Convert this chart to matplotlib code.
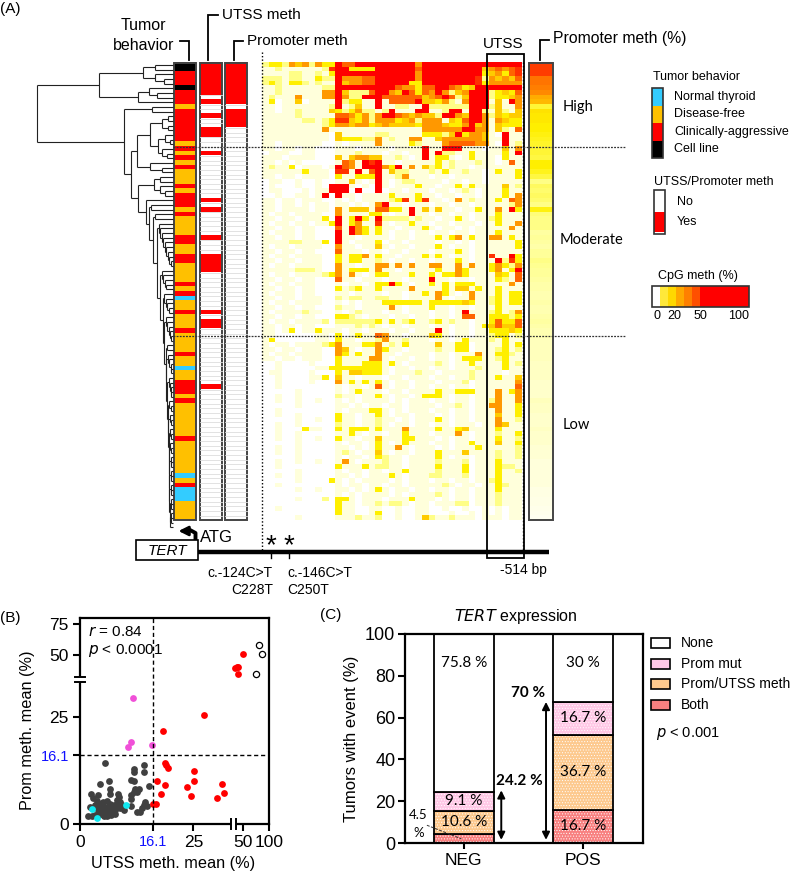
import numpy as np
import matplotlib
matplotlib.use('Agg')
import matplotlib.pyplot as plt
from matplotlib.collections import LineCollection
from matplotlib.colors import LinearSegmentedColormap, ListedColormap
from matplotlib.patches import Rectangle

plt.rcParams['font.family'] = ['Liberation Sans', 'DejaVu Sans']

# CpG methylation levels, one string per tumor (0 = none ... 8 = full), groups only for counting
cpg_levels = [
    "23325452533 866888 8888885 8888888888 88888",
    "11211111127 883333 8888886 8888888884 56567",
    "11112211213 888888 8888885 8888888883 45367",
    "22212211322 855566 8888885 8888888872 54546",
    "23213321211 845566 8888833 8888888873 55555",
    "11211111122 888888 8886553 6688653488 88888",
    "11211111155 842226 8854863 6585245888 23436",
    "12111511155 852288 8666666 4568624888 23345",
    "13011401111 823311 8166668 4435215888 14185",
    "11011111112 812411 8112211 8222222888 24115",
    "11011211114 323522 1281118 8112881882 14214",
    "11111211111 665352 5886545 4428854885 24344",
    "11111122123 774352 5553452 5551436885 15433",
    "11111111123 554553 4544443 5554335845 14333",
    "11111111151 111111 1111111 5555558855 14216",
    "11111111110 411111 2211111 3332483554 10811",
    "11111111110 433322 5121155 1145555554 11811",
    "11011111100 101111 5111132 1115666655 10812",
    "11011011000 111011 1101111 8118881110 11415",
    "01110011000 111211 1011011 8182211311 11318",
    "11101111000 414554 4112101 8133101311 10311",
    "11010100000 165187 8110111 1131211121 10161",
    "12113011101 865188 8538151 4231211011 11111",
    "11111131110 771816 8142211 1213112110 13113",
    "11011011110 311333 8112511 1011011110 11113",
    "01100100100 114101 8101221 1110110110 11111",
    "01000100108 881010 8101113 1101131311 11412",
    "01100010118 880800 8011011 1011012101 11311",
    "00100110180 811011 1131113 1101101101 11315",
    "11011011100 101011 1123713 7110151211 13165",
    "11011010110 110101 5811011 1011011011 11125",
    "11011110110 514441 6633181 4141101131 15183",
    "10110111100 511113 3101181 1011011011 13111",
    "11011011130 813831 8222212 1101131011 23111",
    "10110110113 813511 7101131 1011011101 13115",
    "11011011000 618531 3110111 3101101011 11151",
    "10111011000 818531 3101101 1011011011 13111",
    "11011011000 811011 1101101 1131351311 55131",
    "11112211130 810111 3011011 1101101011 11113",
    "10110111100 511011 4101101 1131011011 11113",
    "11011011000 611101 1011011 1011131011 11111",
    "10110111100 313351 3110111 3131011011 71183",
    "11011011100 313311 2101101 1011131011 18273",
    "10110111100 511011 5515151 1551151511 35325",
    "11111222100 513331 5110111 1131153111 35138",
    "10110111123 515101 3311131 1313353111 14316",
    "11011011000 611011 1011011 1811011011 13216",
    "10110111000 101101 3383101 1313133311 11151",
    "11011011000 312311 3111151 1113144131 13111",
    "10111011000 110111 1011011 3153101511 13133",
    "11011011100 212211 2211011 1151011511 23133",
    "10110111100 101011 1333333 1333334311 23133",
    "11011011000 211011 1151011 1311011011 13111",
    "10111121100 101211 1011011 1011018111 23125",
    "11011011000 332101 1101101 1011016611 33323",
    "10110111120 222222 3131231 1231211011 36336",
    "11011011000 111212 1011011 1011011013 46446",
    "11013011311 101101 1101101 1181011011 33343",
    "11000000110 301311 6511011 1431011011 23312",
    "13000000110 311011 2511211 1011013111 21311",
    "10110111123 511133 5121311 1141133011 11313",
    "11011011100 541011 5311011 1121133011 12312",
    "10110111100 531311 5110111 1011011151 13321",
    "11011011100 311115 5101101 1011013331 12311",
    "00100001000 311133 3131011 1121011311 11312",
    "00100000113 333333 3101101 1011011121 11311",
    "01100001000 314433 3101112 1101111211 11011",
    "00100001130 411011 1011011 1011011211 13114",
    "00100001000 513131 3101101 1101112011 11115",
    "00100000000 101101 6101101 1011011011 11116",
    "00000100000 101311 1011011 1131133311 15135",
    "00100100000 211011 3101101 3331011011 15115",
    "00100100100 101011 1101011 1011011011 25115",
    "00000100000 110101 1011011 1101121011 55113",
    "00100000000 101113 3101011 1011011011 15113",
    "00100100000 311011 3101101 1101011011 14113",
    "00000100100 311011 2110101 1131011011 15112",
    "00100100000 211011 2101101 1011011101 15411",
    "00100031100 313331 3111511 1131134111 13111",
    "00100100000 113101 1011311 1011151011 12113",
    "00100100100 311011 4111331 1101011011 13112",
    "00000100000 101101 3101311 1011011311 14113",
    "00100100000 110101 3115101 1101011131 11112",
    "00100100000 121011 4101101 1131114111 12112",
    "00000100000 101101 3211011 1131011011 12112",
    "00100100100 151011 1211011 1121112011 13111",
    "00100000000 311131 2211011 1131113011 13221",
    "00000100000 101101 1011311 1121113011 13112",
    "00100100000 110101 1131011 1221112011 13111",
    "00000100003 101011 1101011 1011011011 23111",
    "00100000000 101101 1011011 1112101101 13211",
    "00000100100 110101 3101101 1011011011 13111",
    "00000000000 101011 1101011 1121011011 12111",
    "00000100020 331011 1011131 1101011011 12111",
    "00000000000 311011 2122101 1011122011 12111",
    "00100000000 311001 1001001 1001001001 01011",
    "00000000000 311001 3001001 1000100101 01011",
    "00000100000 111211 2001001 4211211101 11011",
]

# annotation columns of panel A
tumor_behavior = ("KK RRR K RRR O RRRRRRR O R O R O R OOO R O RRR O R OOOO RR OO RR OOOO R O R B OO R OOO "
                  "R OOOO R OO B OO RRR O R OOOOOOO R OOOOOOO B O R BBB OOOO")
tumor_codes = "BORK"
tumor_colors = ['#33CCFF', '#FFC000', '#FF0000', '#000000']
tumor_names = ['Normal thyroid', 'Disease-free', 'Clinically-aggressive', 'Cell line']
utss_yes = [0, 1, 2, 3, 4, 5, 6, 8, 11, 14, 15, 19, 29, 31, 37, 41, 42, 43, 44, 53, 55, 56, 69]
prom_yes = [0, 1, 2, 3, 4, 5, 6, 7, 8, 10, 11, 12, 13]
prom_mean_level = [6.8, 6.8, 6.8, 5.7, 5.7, 5.5, 5.3, 4.6, 4.4, 2.6, 3.4, 3.2, 3.2, 3.0, 3.0, 2.9, 2.8, 2.7,
                   2.6, 2.6, 2.5, 3.0, 3.0, 2.8, 2.5, 2.0, 2.3, 2.2, 2.3, 2.2, 2.0, 2.9, 2.1, 2.0, 2.0, 2.0,
                   1.7, 1.8, 1.7, 1.6, 1.8, 1.8, 2.0, 1.9, 1.8, 1.8, 1.7, 1.6, 1.6, 1.5, 1.5, 1.6, 1.5, 1.5,
                   1.6, 1.7, 1.6, 1.5, 1.5, 1.4, 1.4, 1.4, 1.4, 1.4, 1.3, 1.3, 1.3, 1.3, 1.2, 1.2, 1.2, 1.2,
                   1.4, 1.3, 1.3, 1.2, 1.2, 1.2, 1.3, 1.2, 1.2, 1.2, 1.1, 1.1, 1.1, 1.0, 1.0, 1.0, 1.0, 1.0,
                   1.0, 0.8, 0.8, 0.7, 0.7, 0.6, 0.5, 0.4]
level_colors = ['#FFFFFF', '#FFFFDC', '#FFFF88', '#FFF000', '#FFCC00', '#FF9900', '#FF6600', '#FF3300', '#FF0000']
cpg_bar_colors = ['#FFFFFF', '#FFE83A', '#FFD800', '#FFA800', '#FF8000', '#FF5000',
                  '#FF0000', '#FF0000', '#FF0000', '#FF0000', '#FF0000', '#FF0000']
cpg_ticks = ['0', '20', '50', '100']

# panel B, methylation means (%)
gray_x = [5.5, 11.8, 12.0, 14.2, 14.0, 6.3, 4.3, 11.2, 11.8, 15.1, 12.9, 12.1, 11.8, 12.6, 6.6, 6.6, 2.5, 4.0,
          11.2, 11.3, 8.3, 8.5, 8.1, 8.9, 14.3, 14.0, 14.7, 13.6, 12.6, 13.2, 11.2, 9.8, 1.8, 2.6, 3.3, 4.0,
          3.3, 4.4, 5.1, 5.9, 6.6, 7.4, 4.8, 5.5, 6.3, 7.0, 7.7, 8.5, 8.8, 5.3, 6.0, 6.8, 7.7, 2.9, 3.7,
          4.4, 5.1, 5.9, 6.6, 7.4, 2.2, 4.0, 4.8, 8.1, 9.2]
gray_y = [14.3, 13.0, 12.1, 13.9, 12.1, 10.0, 9.3, 10.4, 10.0, 8.9, 8.3, 8.1, 7.6, 7.6, 8.1, 7.0, 7.0, 6.9,
          6.8, 5.8, 7.1, 6.4, 5.6, 5.2, 5.2, 4.4, 4.2, 3.7, 2.9, 2.9, 4.2, 3.3, 1.9, 1.9, 2.1, 3.3,
          4.4, 4.8, 5.2, 5.5, 4.8, 4.4, 3.3, 2.9, 2.6, 2.9, 3.3, 4.0, 3.7, 1.9, 1.9, 2.0, 2.3, 6.0, 5.5,
          4.0, 4.0, 4.0, 3.7, 3.7, 4.0, 2.1, 2.3, 4.6, 4.4]
red_x = [34.0, 38.5, 41.0, 39.8, 49.4, 27.4, 18.4, 18.7, 19.5, 18.9, 25.1, 25.1, 23.6, 24.4, 17.0, 18.7, 17.9,
         16.1, 16.7, 31.3, 31.8, 30.3]
red_y = [40.3, 41.1, 41.1, 35.0, 51.3, 25.5, 21.7, 14.3, 13.2, 13.9, 12.4, 10.0, 8.7, 6.5, 10.1, 9.2, 7.1,
         4.7, 4.7, 9.3, 7.3, 6.2]
cell_x = [81.4, 86.6, 75.0]
cell_y = [58.2, 51.0, 35.5]
magenta_x = [11.7, 11.2, 10.6, 15.8]
magenta_y = [29.6, 19.1, 18.0, 18.4]
cyan_x = [2.6, 3.8, 10.1]
cyan_y = [3.5, 1.5, 4.5]

# panel C, % of tumors (heights as drawn in the bars, the printed labels differ a little)
expr_groups = ['NEG', 'POS']
event_names = ['Both', 'Prom/UTSS meth', 'Prom mut', 'None']
event_values = {'Both': [4.5, 16], 'Prom/UTSS meth': [10.9, 35.5], 'Prom mut': [9.2, 16.2], 'None': [75.4, 32.3]}
event_colors = {'Both': '#F88080', 'Prom/UTSS meth': '#FDC98E', 'Prom mut': '#FFC8E6', 'None': '#FFFFFF'}
event_labels = {'Both': [None, '16.7 %'], 'Prom/UTSS meth': ['10.6 %', '36.7 %'], 'Prom mut': ['9.1 %', '16.7 %'],
                'None': ['75.8 %', '30 %']}
any_event = [24.2, 70]

# dendrogram tail: merge position (px) and size of the cluster split off at each step
tail_x = [146, 149, 153, 157, 160, 162.5, 164, 165.5, 166, 167, 167.5, 168, 168.5, 168.8, 169, 169.2, 169.4,
          169.6, 169.8]
tail_size = [1, 2, 2, 10, 5, 5, 6, 2, 5, 5, 3, 3, 3, 3, 3, 3, 3, 3, 3]

TOP, ROW = 62.7, 4.67
N_ROWS = len(cpg_levels)
BOTTOM = TOP + ROW * N_ROWS
CALIBRI = ['Lato', 'DejaVu Sans']
meth_cmap = LinearSegmentedColormap.from_list('meth', list(zip(np.arange(9) / 8, level_colors)))


def comb(n, x):
    if n == 1:
        return 0
    return (min(x + 1.5, 171), 0, comb(n - 1, x + 1.5))


def build_tree():
    tail = 0
    for x, size in zip(reversed(tail_x), reversed(tail_size)):
        tail = (x, comb(size, x), tail)
    t_a = (143, (155, 0, 0), (155, 0, (164, 0, 0)))
    t_b = (138, (149, 0, (157, 0, 0)), 0)
    t_d = (137, (150, (162, (168, 0, 0), (168, 0, 0)), (158, (165, 0, (170, 0, 0)), (162, 0, (167, 0, 0)))),
           (150, 0, (162, 0, 0)))
    t_e = (138, (154, (160, 0, 0), (160, 0, (165, 0, 0))), tail)
    return (37, (99, t_a, t_b), (124, (152, 0, 0), (131, t_d, t_e)))


def walk_tree(node, segs, counter):
    # returns (x, y) of the node, leaves are numbered from the top
    if node == 0:
        y = TOP + ROW * (counter[0] + 0.5)
        counter[0] += 1
        return 172.5, y
    x, upper, lower = node
    x1, y1 = walk_tree(upper, segs, counter)
    x2, y2 = walk_tree(lower, segs, counter)
    segs += [[(x, y1), (x1, y1)], [(x, y2), (x2, y2)], [(x, y1), (x, y2)]]
    return x, (y1 + y2) / 2


def bracket(ax, x_down, y_bot, y_top, x_end):
    ax.plot([x_down, x_down, x_end], [y_bot, y_top, y_top], c='k', lw=1.3, solid_joinstyle='miter')


def yes_no_column(ax, yes_rows, x0, x1):
    vals = np.zeros((N_ROWS, 1))
    vals[yes_rows, 0] = 1
    ax.imshow(vals, extent=(x0, x1, BOTTOM, TOP), aspect='auto', cmap=ListedColormap(['white', '#FF0000']),
              vmin=0, vmax=1, interpolation='nearest')
    for r in range(N_ROWS):
        if r not in yes_rows:
            ax.plot([x0, x1], [TOP + ROW * r, TOP + ROW * r], c='#dddddd', lw=0.6)
    ax.add_patch(Rectangle((x0, TOP), x1 - x0, BOTTOM - TOP, fc='none', ec='#444444', lw=1.4))


def draw_panel_a(ax):
    segs = []
    walk_tree(build_tree(), segs, [0])
    ax.add_collection(LineCollection(segs, colors='#222222', linewidths=0.8))

    # annotation columns
    codes = tumor_behavior.replace(' ', '')
    vals = np.array([[tumor_codes.index(c)] for c in codes])
    ax.imshow(vals, extent=(173.5, 195.5, BOTTOM, TOP), aspect='auto', cmap=ListedColormap(tumor_colors),
              vmin=0, vmax=3, interpolation='nearest')
    ax.add_patch(Rectangle((173.5, TOP), 22, BOTTOM - TOP, fc='none', ec='#444444', lw=1.4))
    yes_no_column(ax, utss_yes, 199.5, 221.5)
    yes_no_column(ax, prom_yes, 225, 247)

    # heatmap
    grid = np.array([[int(c) for c in row.replace(' ', '')] for row in cpg_levels])
    ax.imshow(grid, extent=(262, 522, BOTTOM, TOP), aspect='auto', cmap=meth_cmap, vmin=0, vmax=8,
              interpolation='nearest')

    # promoter mean column
    ax.imshow(np.array(prom_mean_level).reshape(-1, 1), extent=(529, 553, BOTTOM, TOP), aspect='auto',
              cmap=meth_cmap, vmin=0, vmax=8, interpolation='nearest')
    ax.add_patch(Rectangle((529, TOP), 24, BOTTOM - TOP, fc='none', ec='#444444', lw=1.4))

    # class separators, UTSS window
    for y in [147, 336]:
        ax.plot([173, 625], [y, y], c='#333333', lw=0.9, ls=(0, (1.5, 1)))
    ax.plot([262, 262], [52, 552], c='k', lw=1, ls=(0, (1, 1.5)))
    ax.plot([523, 523], [62, 552], c='k', lw=1, ls=(0, (1, 1.5)))
    ax.add_patch(Rectangle((487, 54), 36.5, 504, fc='none', ec='k', lw=1.3))

    # headers
    ax.text(0, 9, '(A)', fontsize=11, va='center')
    ax.text(143.5, 26, 'Tumor', fontsize=11.5, ha='center', va='center')
    ax.text(143.5, 45, 'behavior', fontsize=11.5, ha='center', va='center')
    bracket(ax, 189, 60, 41, 180)
    ax.text(222, 15, 'UTSS meth', fontsize=11, va='center')
    bracket(ax, 208, 60, 15, 218)
    ax.text(247, 41, 'Promoter meth', fontsize=11, va='center')
    bracket(ax, 234, 60, 41, 243)
    ax.text(483, 44, 'UTSS', fontsize=11, va='center')
    ax.text(553, 39, 'Promoter meth (%)', fontsize=11.3, va='center')
    bracket(ax, 540, 60, 40, 549)
    for label, x, y in [('High', 563, 107), ('Moderate', 560, 240), ('Low', 563, 425)]:
        ax.text(x, y, label, fontsize=10.5, va='center', family=CALIBRI)

    # gene track
    ax.plot([197, 549], [552, 552], c='k', lw=3.2, solid_capstyle='butt')
    ax.add_patch(Rectangle((136, 540), 62, 20, fc='white', ec='k', lw=1.2, zorder=3))
    ax.text(167, 551, 'TERT', fontsize=11, style='italic', ha='center', va='center', zorder=4)
    ax.plot([195.5, 195.5, 190, 186], [540, 533, 530, 530], c='k', lw=2.8, solid_capstyle='butt')
    ax.annotate('', xy=(178.5, 531), xytext=(188, 531),
                arrowprops=dict(arrowstyle='-|>', color='k', lw=2, mutation_scale=14, shrinkA=0, shrinkB=0))
    ax.text(200, 538, 'ATG', fontsize=12, va='center')
    ax.text(271, 546.5, '*', fontsize=20, ha='center', va='center')
    ax.text(289, 546.5, '*', fontsize=20, ha='center', va='center')
    ax.plot([271, 271], [552, 558], c='k', lw=1)
    ax.plot([289, 289], [552, 558], c='k', lw=1)
    ax.text(273, 573, 'c.-124C>T', fontsize=10, ha='right', va='center')
    ax.text(273, 590, 'C228T', fontsize=10, ha='right', va='center')
    ax.text(287, 573, 'c.-146C>T', fontsize=10, va='center')
    ax.text(287, 590, 'C250T', fontsize=10, va='center')
    ax.text(500, 570, '-514 bp', fontsize=10, va='center')

    # legends
    ax.text(653, 77, 'Tumor behavior', fontsize=9, va='center')
    for i, (name, color) in enumerate(zip(tumor_names, tumor_colors)):
        ax.add_patch(Rectangle((652, 88 + 17.5 * i), 11, 17.5, fc=color, ec='none'))
        ax.text(674, 97 + 17.4 * i, name, fontsize=9, va='center')
    ax.add_patch(Rectangle((652, 88), 11, 70, fc='none', ec='#333333', lw=1.2))
    ax.text(654, 182, 'UTSS/Promoter meth', fontsize=9, va='center')
    ax.add_patch(Rectangle((654, 212), 11, 20, fc='#FF0000', ec='none'))
    ax.add_patch(Rectangle((654, 190), 11, 44, fc='none', ec='#333333', lw=1.2))
    ax.text(677, 202, 'No', fontsize=9, va='center')
    ax.text(677, 222, 'Yes', fontsize=9, va='center')
    ax.text(658, 276, 'CpG meth (%)', fontsize=9, va='center')
    ax.imshow(np.arange(len(cpg_bar_colors)).reshape(1, -1), extent=(652, 749, 307, 286), aspect='auto',
              cmap=ListedColormap(cpg_bar_colors), interpolation='nearest')
    ax.add_patch(Rectangle((652, 286), 97, 21, fc='none', ec='#333333', lw=1.2))
    for label, x in zip(cpg_ticks, [657, 674, 700, 739]):
        ax.text(x, 316, label, fontsize=9, ha='center', va='center')


def draw_panel_b(fig, ax0):
    ax = fig.add_axes([80 / 792, 1 - 824 / 873, 189 / 792, 206 / 873])
    xb, xp = [0, 33, 34, 100], [0, 450, 465, 568]
    yb, yp = [0, 32.9, 33.4, 79.5], [0, 422, 444, 619]
    ax.set_xscale('function', functions=(lambda v: np.interp(v, xb, xp), lambda v: np.interp(v, xp, xb)))
    ax.set_yscale('function', functions=(lambda v: np.interp(v, yb, yp), lambda v: np.interp(v, yp, yb)))
    ax.set_xlim(0, 100)
    ax.set_ylim(0, 79.5)
    ax.scatter(gray_x, gray_y, s=24, c='#404040', lw=0, clip_on=False)
    ax.scatter(red_x, red_y, s=24, c='#FF0000', lw=0)
    ax.scatter(magenta_x, magenta_y, s=24, c='#F050D8', lw=0)
    ax.scatter(cyan_x, cyan_y, s=24, c='#10E8F0', lw=0, clip_on=False, zorder=3)
    ax.scatter(cell_x, cell_y, s=20, fc='white', ec='k', lw=0.9)
    ax.axvline(16.1, c='k', lw=1, ls=(0, (3, 2)))
    ax.axhline(16.1, c='k', lw=1, ls=(0, (3, 2)))
    ax.set_xticks([0, 16.1, 25, 50, 100], ['0', '16.1', '25', '50', '100'], fontsize=12.5)
    ax.get_xticklabels()[1].set_color('#1010FF')
    ax.get_xticklabels()[1].set_fontsize(10.5)
    ax.set_yticks([0, 16.1, 25, 50, 75], ['0', '16.1', '25', '50', '75'], fontsize=12.5)
    ax.get_yticklabels()[1].set_color('#1010FF')
    ax.get_yticklabels()[1].set_fontsize(10.5)
    ax.tick_params(length=5, width=1.5, pad=3)
    for s in ax.spines.values():
        s.set_linewidth(1.6)
    ax.set_xlabel('UTSS meth. mean (%)', fontsize=11.7)
    ax.xaxis.set_label_coords(0.495, -0.155)
    ax.set_ylabel('Prom meth. mean (%)', fontsize=11.7)
    ax.yaxis.set_label_coords(-0.24, 0.456)
    ax.text(0.04, 0.93, '$\\mathit{r}$ = 0.84', transform=ax.transAxes, fontsize=11, va='center')
    ax.text(0.04, 0.84, '$\\mathit{p}$ < 0.0001', transform=ax.transAxes, fontsize=11, va='center')

    # axis breaks, in page pixels
    ax0.add_patch(Rectangle((76, 677), 8, 5, fc='white', ec='none'))
    ax0.plot([75, 85], [677, 677], c='k', lw=1.4)
    ax0.plot([75, 85], [682, 682], c='k', lw=1.4)
    ax0.add_patch(Rectangle((231, 820), 4.5, 8, fc='white', ec='none'))
    ax0.plot([231, 231], [819, 829], c='k', lw=1.4)
    ax0.plot([236, 236], [819, 829], c='k', lw=1.4)
    ax0.text(0, 618, '(B)', fontsize=11, va='center')


def draw_panel_c(fig, ax0):
    ax = fig.add_axes([405 / 792, 1 - 843 / 873, 238 / 792, 209 / 873])
    plt.rcParams['hatch.linewidth'] = 0.4
    x = np.arange(len(expr_groups))
    bottoms = np.zeros(len(expr_groups))
    for name in event_names:
        vals = np.array(event_values[name])
        ax.bar(x, vals, 0.5, bottom=bottoms, color=event_colors[name], hatch='......' if name != 'None' else None,
               edgecolor='white', lw=0)
        ax.bar(x, vals, 0.5, bottom=bottoms, fill=False, edgecolor='k', lw=1.3)
        for xi, base, v, label in zip(x, bottoms, vals, event_labels[name]):
            if label:
                y = base + v / 2 if name != 'None' else 86
                ax.text(xi, y, label, ha='center', va='center', fontsize=11, family=CALIBRI)
        bottoms += vals
    ax.set_xlim(-0.494, 1.506)
    ax.set_ylim(0, 100)
    ax.set_xticks(x, expr_groups, fontsize=12.5)
    ax.set_yticks(range(0, 101, 20))
    ax.tick_params(axis='y', labelsize=13, length=5, width=1.5, pad=2)
    ax.tick_params(axis='x', length=4, width=1.5, pad=3)
    for s in ax.spines.values():
        s.set_linewidth(1.6)
    ax.set_ylabel('Tumors with event (%)', fontsize=12, labelpad=4)
    ax.text(516, 617, '$\\mathit{TERT}$ expression', fontsize=11.5, ha='center', va='center',
            transform=ax0.transData)

    for xa, top, label, (tx, ty) in zip([0.315, 0.691], [any_event[0] + 1, any_event[1] - 2.5], any_event,
                                        [(0.465, 29.7), (0.54, 72)]):
        ax.annotate('', xy=(xa, top), xytext=(xa, 1.5),
                    arrowprops=dict(arrowstyle='<|-|>', color='k', lw=1.4, mutation_scale=11, shrinkA=0, shrinkB=0))
        ax.text(tx, ty, f'{label} %', fontsize=11, fontweight='bold', ha='center', va='center', family=CALIBRI)
    ax.text(-0.38, 13.5, '4.5', fontsize=9.5, ha='center', va='center', family=CALIBRI)
    ax.text(-0.38, 4.6, '%', fontsize=9.5, ha='center', va='center', family=CALIBRI)
    ax.plot([-0.31, -0.02], [8.5, 2], c='#333333', lw=0.7, ls=(0, (3, 1.5)))

    # legend
    ax0.text(320, 615, '(C)', fontsize=11, va='center')
    rows = [('None', 638), ('Prom mut', 659), ('Prom/UTSS meth', 679), ('Both', 700)]
    for name, y in rows:
        ax0.add_patch(Rectangle((651, y), 19, 10, fc=event_colors[name], ec='k', lw=1.2))
        ax0.text(681, y + 5, name, fontsize=10, va='center')
    ax0.text(656, 734, '$\\mathit{p}$ < 0.001', fontsize=10.5, va='center')


if __name__ == '__main__':
    fig = plt.figure(figsize=(7.92, 8.73), dpi=100)
    ax0 = fig.add_axes([0, 0, 1, 1], zorder=5)
    ax0.axis('off')
    draw_panel_a(ax0)
    draw_panel_b(fig, ax0)
    draw_panel_c(fig, ax0)
    ax0.set_xlim(0, 792)
    ax0.set_ylim(873, 0)
    fig.savefig('out.png', dpi=100)
